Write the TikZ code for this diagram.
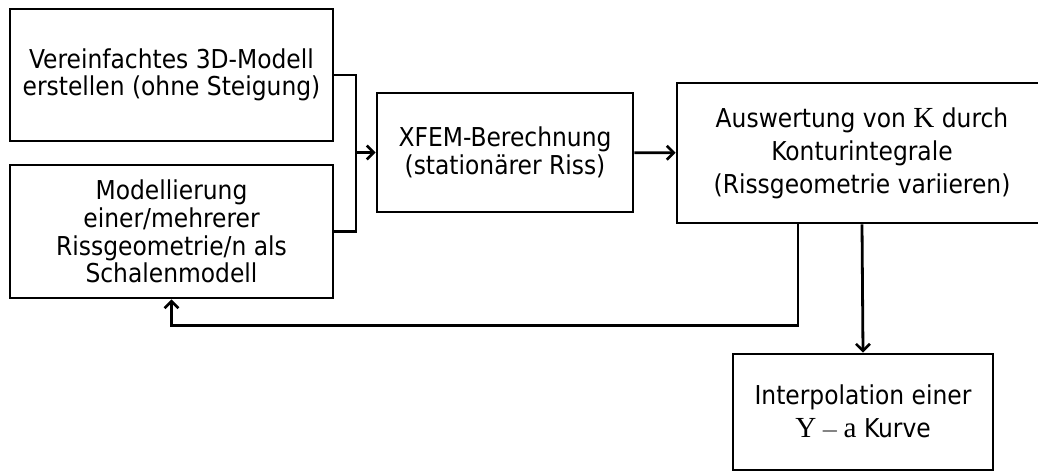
\documentclass[tikz,border=0pt]{standalone}
\usepackage{fontspec}
\setmainfont{DejaVu Sans Condensed}
\newfontfamily\serifmath[Scale=1.12]{Liberation Serif}
\usepackage{tikz}
\usetikzlibrary{positioning, arrows, arrows.meta}

\tikzset{
  box/.style={draw, line width=1.4pt, align=center, inner sep=0pt, font=\fontsize{13}{13.8}\selectfont},
  widebox/.style={box, font=\fontsize{13}{16.5}\selectfont},
  conn/.style={line width=1.4pt},
  arr/.style={conn, -{Straight Barb[length=3.5pt,width=7pt,line width=1.3pt]}}
}

\begin{document}
\begin{tikzpicture}[x=0.5pt,y=-0.5pt]
\useasboundingbox (0,0) rectangle (1038,472);
\node[box, minimum width=161.5pt, minimum height=66pt] (modell) at (171.5,75) {Vereinfachtes 3D-Modell\\erstellen (ohne Steigung)};
\node[box, minimum width=161.5pt, minimum height=66.5pt] (riss) at (171.5,231.5) {Modellierung\\einer/mehrerer\\Rissgeometrie/n als\\Schalenmodell};
\node[box, minimum width=128pt, minimum height=59.5pt] (xfem) at (505,152.5) {XFEM-Berechnung\\(stationärer Riss)};
\node[widebox, minimum width=185pt, minimum height=70pt] (auswertung) at (862,153) {Auswertung von {\serifmath K} durch\\Konturintegrale\\(Rissgeometrie variieren)};
\node[widebox, minimum width=130pt, minimum height=58pt] (interp) at (863,412) {Interpolation einer\\{\serifmath Y}\,$-$\,{\serifmath a} Kurve};
\coordinate (join) at (356,152.5);
\draw[conn] (modell.east) -| (join) |- (riss.east);
\draw[arr] (join) -- (xfem.west);
\draw[arr] (xfem) -- (auswertung);
% Rueckfuehrung zur Rissgeometrie
\draw[arr] ([xshift=-32pt]auswertung.south) -- ++(0,101) -| (riss.south);
\draw[arr] (auswertung.south) -- (interp.north);
\end{tikzpicture}
\end{document}
